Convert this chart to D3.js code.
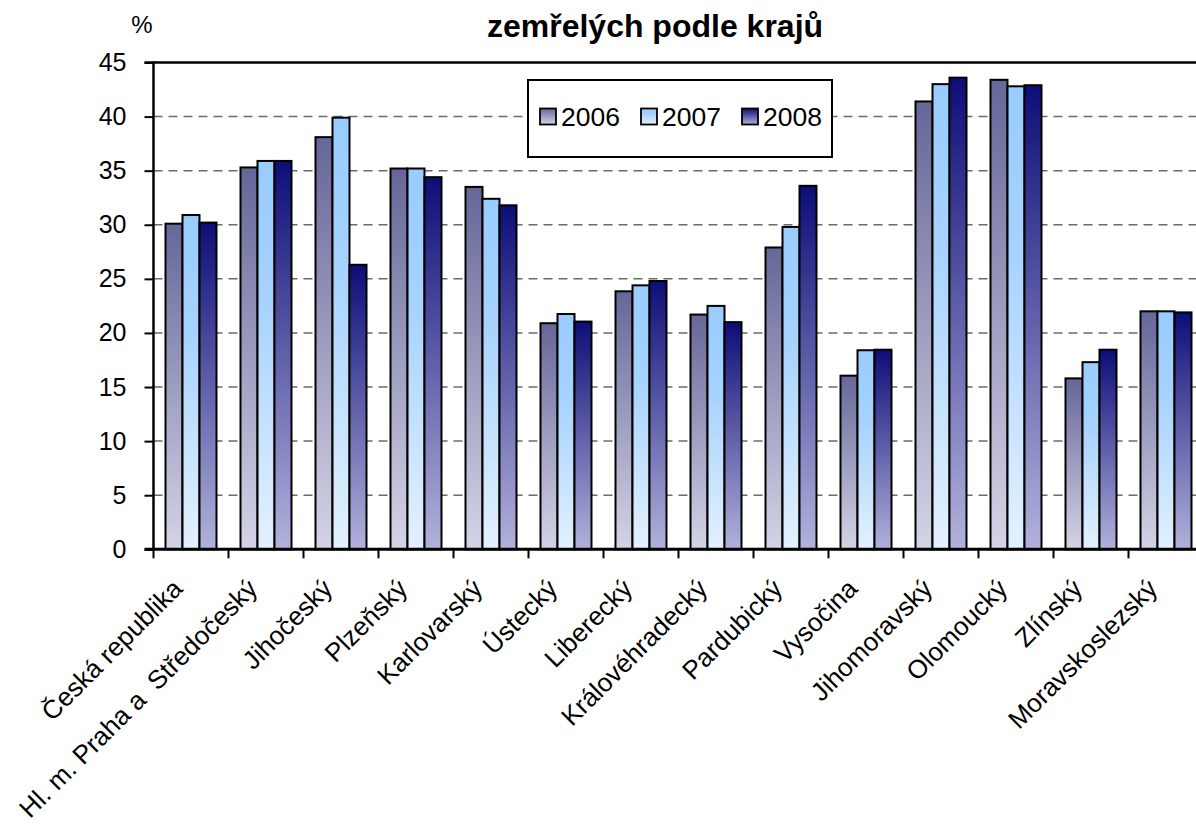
<!DOCTYPE html>
<html><head><meta charset="utf-8">
<script src="https://cdn.jsdelivr.net/npm/d3@7"></script>
<style>
html,body{margin:0;padding:0;background:#fff;}
svg{display:block;font-family:Arial,"Liberation Sans",sans-serif;}
</style></head>
<body>
<svg id="chart" width="1196" height="827"></svg>
<script>
const categories = ["Česká republika","Hl. m. Praha a  Středočeský","Jihočeský","Plzeňský","Karlovarský","Ústecký","Liberecký","Královéhradecký","Pardubický","Vysočina","Jihomoravský","Olomoucký","Zlínský","Moravskoslezský"];
const years = ["2006","2007","2008"];
const values2006 = [30.1,35.3,38.1,35.2,33.5,20.9,23.85,21.7,27.9,16.05,41.4,43.4,15.8,22.0];
const values2007 = [30.9,35.9,39.9,35.2,32.4,21.75,24.4,22.5,29.8,18.4,43.0,42.8,17.3,22.0];
const values2008 = [30.2,35.9,26.3,34.4,31.8,21.05,24.8,21.0,33.6,18.45,43.6,42.9,18.45,21.9];
const yTicks = [0,5,10,15,20,25,30,35,40,45];
const titleText = "zemřelých podle krajů";
const unitLabel = "%";

const series = [values2006, values2007, values2008];
const gradStops = [
  ["#666699","#d4d4e6"],
  ["#99ccff","#e3f1ff"],
  ["#0d0d78","#b2b2dc"]
];

const svg = d3.select("#chart");
const pLeft = 153.5, pTop = 62.5, pBottom = 549.3, step = 75;
const pRight = pLeft + categories.length*step;

const defs = svg.append("defs");
gradStops.forEach((s,i)=>{
  const g = defs.append("linearGradient").attr("id","g"+i)
    .attr("x1",0).attr("y1",0).attr("x2",0).attr("y2",1);
  g.append("stop").attr("offset","0%").attr("stop-color",s[0]);
  if(i===1) g.append("stop").attr("offset","35%").attr("stop-color","#a6d2ff");
  g.append("stop").attr("offset","100%").attr("stop-color",s[1]);
});

const x0 = d3.scaleBand().domain(categories).range([pLeft,pRight]).paddingInner(0).paddingOuter(0);
const x1 = d3.scaleBand().domain(years).range([0,x0.bandwidth()]).paddingInner(0).paddingOuter(0.706);
const y = d3.scaleLinear().domain([0,45]).range([pBottom,pTop]);

// gridlines
svg.append("g").selectAll("line").data(yTicks.filter(t=>t>0&&t<45)).join("line")
  .attr("x1",pLeft).attr("x2",1196).attr("y1",d=>y(d)).attr("y2",d=>y(d))
  .attr("stroke","#6b6b6b").attr("stroke-width",1.5).attr("stroke-dasharray","9,6");

// legend
const lg = svg.append("g");
lg.append("rect").attr("x",528).attr("y",80).attr("width",304).attr("height",77)
  .attr("fill","#fff").attr("stroke","#000").attr("stroke-width",2);
const legX = [540, 641, 742];
years.forEach((yr,i)=>{
  lg.append("rect").attr("x",legX[i]).attr("y",108.5).attr("width",16).attr("height",16)
    .attr("fill","url(#g"+i+")").attr("stroke","#000").attr("stroke-width",1.8);
  lg.append("text").attr("x",legX[i]+21).attr("y",126).attr("font-size",26.5).attr("fill","#000").text(yr);
});

// bars
const groups = svg.append("g").selectAll("g").data(categories).join("g")
  .attr("transform",d=>`translate(${x0(d)},0)`);
groups.selectAll("rect").data((c,ci)=>years.map((yr,si)=>({yr,si,v:series[si][ci]}))).join("rect")
  .attr("x",d=>x1(d.yr)).attr("width",x1.bandwidth())
  .attr("y",d=>y(d.v)).attr("height",d=>y(0)-y(d.v))
  .attr("fill",d=>"url(#g"+d.si+")").attr("stroke","#000").attr("stroke-width",2);

// axes
const yAxis = d3.axisLeft(y).tickValues(yTicks).tickSize(9).tickPadding(18).tickFormat(d3.format("d"));
const ya = svg.append("g").attr("transform",`translate(${pLeft},0)`).call(yAxis);
ya.select(".domain").remove();
ya.selectAll(".tick line").attr("stroke","#000").attr("stroke-width",2);
ya.selectAll(".tick text").attr("font-size",25).attr("fill","#000").attr("font-family","Arial, Liberation Sans, sans-serif");

svg.append("line").attr("x1",pLeft).attr("x2",pLeft).attr("y1",pTop-1).attr("y2",pBottom+1)
  .attr("stroke","#000").attr("stroke-width",2.5);
svg.append("line").attr("x1",pLeft-9).attr("x2",1196).attr("y1",pTop).attr("y2",pTop)
  .attr("stroke","#000").attr("stroke-width",2.5);
svg.append("line").attr("x1",pLeft-9).attr("x2",1196).attr("y1",pBottom).attr("y2",pBottom)
  .attr("stroke","#000").attr("stroke-width",3);

// x ticks between categories
const tickPos = categories.map(c=>x0(c)).concat([pRight]);
svg.append("g").selectAll("line").data(tickPos).join("line")
  .attr("x1",d=>d).attr("x2",d=>d).attr("y1",pBottom).attr("y2",pBottom+9)
  .attr("stroke","#000").attr("stroke-width",2);

// category labels
svg.append("g").selectAll("text").data(categories).join("text")
  .attr("transform",d=>`translate(${x0(d)+x0.bandwidth()/2-7},${pBottom+41}) rotate(-45)`)
  .attr("text-anchor","end").attr("font-size",26).attr("fill","#000")
  .style("white-space","pre").text(d=>d);

// title and unit
svg.append("text").attr("x",655).attr("y",37).attr("text-anchor","middle")
  .attr("font-size",32).attr("font-weight","bold").attr("fill","#000").text(titleText);
svg.append("text").attr("x",142).attr("y",33).attr("text-anchor","middle")
  .attr("font-size",24).attr("fill","#000").text(unitLabel);
</script>
</body></html>
